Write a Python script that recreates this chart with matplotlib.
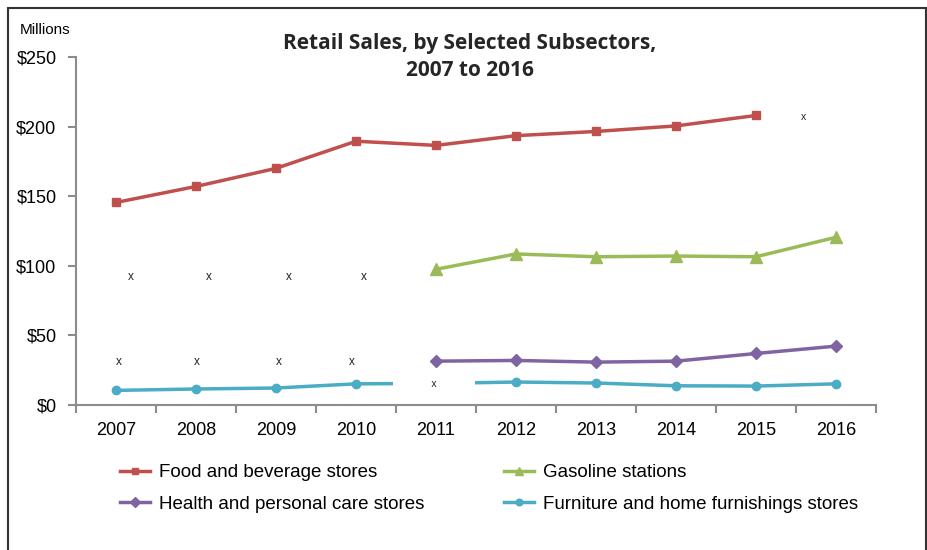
import numpy as np
import matplotlib.pyplot as plt
from matplotlib.patches import Rectangle

# Data (millions of dollars), NaN = not available
years = ['2007', '2008', '2009', '2010', '2011', '2012', '2013', '2014', '2015', '2016']
food = [145.5, 157, 170, 189.5, 186.5, 193.5, 196.5, 200.5, 208, np.nan]
gasoline = [np.nan, np.nan, np.nan, np.nan, 97.5, 108.5, 106.5, 107, 106.5, 120.5]
health = [np.nan, np.nan, np.nan, np.nan, 31.5, 32, 30.8, 31.5, 37, 42.3]
furniture = [10.5, 11.5, 12.2, 15.2, 15.5, 16.5, 15.8, 13.8, 13.6, 15.2]

# "x" placeholders for suppressed values: (category index, value)
gas_x = [(0, 92), (1, 92), (2, 92), (3, 92)]
health_x = [(0, 31), (1, 31), (2, 31), (3, 31)]
food_x = [(9, 207)]
furn_x = [(4, 15.3)]

plt.rcParams['font.family'] = ['Liberation Sans', 'DejaVu Sans']

fig = plt.figure(figsize=(9.28, 5.5), dpi=100)
ax = fig.add_axes([76 / 928, 1 - 405 / 550, 800 / 928, 348 / 550])

x = np.arange(len(years))
l_food, = ax.plot(x, food, color='#C0504D', lw=2.5, marker='s', ms=6, label='Food and beverage stores', zorder=3)
l_gas, = ax.plot(x, gasoline, color='#9BBB59', lw=2.5, marker='^', ms=8, label='Gasoline stations', zorder=3)
l_health, = ax.plot(x, health, color='#8064A2', lw=2.5, marker='D', ms=6, label='Health and personal care stores', zorder=3)
l_furn, = ax.plot(x, furniture, color='#4BACC6', lw=2.5, marker='o', ms=6, label='Furniture and home furnishings stores', zorder=2)

gas_off = [0.19, 0.16, 0.16, 0.1]
health_off = [0.04, 0.01, 0.03, -0.05]
for (i, v), d in zip(gas_x, gas_off):
    ax.text(i + d, v, 'x', ha='center', va='center', fontsize=8.5, color='#222222')
for (i, v), d in zip(health_x, health_off):
    ax.text(i + d, v, 'x', ha='center', va='center', fontsize=8.5, color='#222222')
for i, v in food_x:
    ax.text(i - 0.41, v, 'x', ha='center', va='center', fontsize=7.5, color='#222222')
for i, v in furn_x:
    ax.text(i - 0.02, v, ' ' * 13 + 'x' + ' ' * 13, ha='center', va='center', fontsize=7.5,
            color='#222222', zorder=2.5,
            bbox=dict(facecolor='white', edgecolor='none', boxstyle='square,pad=0.1'))

ax.set_xlim(-0.5, 9.5)
ax.set_ylim(0, 250)
ax.set_xticks(x)
ax.set_xticklabels(years)
ax.set_xticks(np.arange(-0.5, 10, 1), minor=True)
ax.tick_params(axis='x', which='major', length=0, pad=12, labelsize=13)
ax.tick_params(axis='x', which='minor', length=6, width=1.5, color='#8c8c8c', direction='out')
ax.set_yticks([0, 50, 100, 150, 200, 250])
ax.set_yticklabels(['$0', '$50', '$100', '$150', '$200', '$250'])
ax.tick_params(axis='y', length=6, width=1.5, color='#8c8c8c', labelsize=13, pad=8)
for s in ['top', 'right']:
    ax.spines[s].set_visible(False)
for s in ['left', 'bottom']:
    ax.spines[s].set_color('#8c8c8c')
    ax.spines[s].set_linewidth(1.5)

fig.text(20 / 928, 1 - 30 / 550, 'Millions', fontsize=11, va='center', ha='left')
fig.text(470 / 928, 1 - 57 / 550, 'Retail Sales, by Selected Subsectors,\n2007 to 2016',
         ha='center', va='center', fontsize=15, fontweight='bold', color='#262626',
         family=['Open Sans', 'DejaVu Sans'], linespacing=1.35)

# legend filled row by row: Food, Gasoline / Health, Furniture
ax.legend([l_food, l_health, l_gas, l_furn],
          [l.get_label() for l in [l_food, l_health, l_gas, l_furn]],
          loc='upper left', bbox_to_anchor=(0.034, -0.122), ncol=2, frameon=False,
          fontsize=13.5, handlelength=1.6, handletextpad=0.5, columnspacing=4.2,
          labelspacing=0.75, markerscale=0.8)

# outer frame
fig.patches.append(Rectangle((8 / 928, -0.05), 918 / 928, 1.05 - 8 / 550, transform=fig.transFigure,
                             fill=False, edgecolor='#333333', lw=1.5))

fig.savefig('out.png', dpi=100)
